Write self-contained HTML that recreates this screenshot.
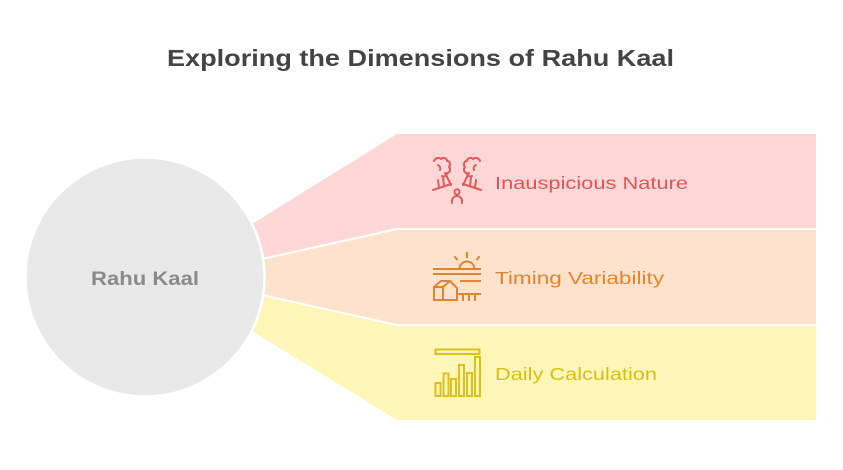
<!DOCTYPE html>
<html>
<head>
<meta charset="utf-8">
<style>
  html,body{margin:0;padding:0;background:#ffffff;}
  body{width:843px;height:470px;overflow:hidden;}
  svg{display:block;}
  text{font-family:"Liberation Sans", sans-serif;}
</style>
</head>
<body>
<svg width="843" height="470" viewBox="0 0 843 470" xmlns="http://www.w3.org/2000/svg">
  <rect width="843" height="470" fill="#ffffff"/>

  <!-- Title -->
  <text x="167" y="66" font-size="23" font-weight="bold" fill="#444444" textLength="507" lengthAdjust="spacingAndGlyphs">Exploring the Dimensions of Rahu Kaal</text>

  <!-- Bands -->
  <polygon points="252,224 397,134 816,134 816,228 397,228 262,258" fill="#ffd7d7"/>
  <polygon points="262,260 397,230 816,230 816,324 397,324 262,294" fill="#ffe2cc"/>
  <polygon points="262,296 397,326 816,326 816,420 397,420 252,331" fill="#fff6b8"/>

  <!-- Circle -->
  <circle cx="145" cy="277" r="119.5" fill="#e9e9e9" stroke="#ffffff" stroke-width="2.5"/>
  <text x="91" y="285" font-size="19" font-weight="bold" fill="#8a8a8a" textLength="108" lengthAdjust="spacingAndGlyphs">Rahu Kaal</text>

  <!-- Icon 1: trees + person -->
  <g fill="none" stroke="#e05a5a" stroke-width="2" stroke-linecap="round" stroke-linejoin="round">
    <g>
      <path d="M434,161 c1,-3 5,-4 7,-2 c2,-2 6,-1 6,2 c3,0 4,4 2,6 c2,2 1,6 -2,6 c0,3 -3,4 -5,3"/>
      <path d="M438,165 c2,1 3,3 2,5"/>
      <path d="M433,190 L451,184"/>
      <path d="M438,180 L439,188"/>
      <path d="M443,177 L444,186"/>
      <path d="M445,173 L451,185"/>
    </g>
    <g transform="translate(914,0) scale(-1,1)">
      <path d="M434,161 c1,-3 5,-4 7,-2 c2,-2 6,-1 6,2 c3,0 4,4 2,6 c2,2 1,6 -2,6 c0,3 -3,4 -5,3"/>
      <path d="M438,165 c2,1 3,3 2,5"/>
      <path d="M433,190 L451,184"/>
      <path d="M438,180 L439,188"/>
      <path d="M443,177 L444,186"/>
      <path d="M445,173 L451,185"/>
    </g>
    <circle cx="457" cy="192" r="2.6"/>
    <path d="M452,203 v-2 a5,5 0 0 1 10,0 v2"/>
  </g>
  <text x="495" y="189" font-size="17.5" fill="#e05555" textLength="193" lengthAdjust="spacingAndGlyphs">Inauspicious Nature</text>

  <!-- Icon 2: sun, horizon, house -->
  <g fill="none" stroke="#e0852f" stroke-width="2" stroke-linecap="square" stroke-linejoin="miter">
    <path d="M459.5,269 a7.5,7.5 0 0 1 15,0"/>
    <path d="M467,253 v4"/>
    <path d="M455,257 l2,2.5"/>
    <path d="M479,257 l-2,2.5"/>
    <path d="M434,269 H480"/>
    <path d="M434,274 H480"/>
    <path d="M461,281 H480"/>
    <path d="M434,287 L441,281 L450,281 L457,288 L457,300 L434,300 Z"/>
    <path d="M434,287 H443 L450,281"/>
    <path d="M443,287 V300"/>
    <path d="M457,294 H480"/>
    <path d="M463,294 V300"/>
    <path d="M469,294 V300"/>
    <path d="M475,294 V300"/>
  </g>
  <text x="495" y="284" font-size="17.5" fill="#e08530" textLength="169" lengthAdjust="spacingAndGlyphs">Timing Variability</text>

  <!-- Icon 3: bar chart -->
  <g fill="none" stroke="#dcc11a" stroke-width="2">
    <rect x="435.5" y="349.5" width="44" height="4.5"/>
    <rect x="435.5" y="383" width="5" height="13"/>
    <rect x="443.5" y="373.5" width="5" height="22.5"/>
    <rect x="451" y="379" width="5" height="17"/>
    <rect x="459" y="365" width="5" height="31"/>
    <rect x="467" y="373" width="5" height="23"/>
    <rect x="475" y="357" width="5" height="39"/>
  </g>
  <text x="495" y="380" font-size="17.5" fill="#d9bf14" textLength="162" lengthAdjust="spacingAndGlyphs">Daily Calculation</text>
</svg>
</body>
</html>
